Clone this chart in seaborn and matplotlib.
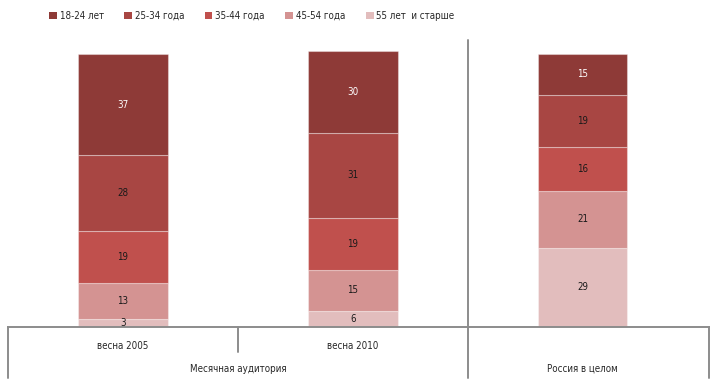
import matplotlib.pyplot as plt
import numpy as np
import pandas as pd
import seaborn as sns
from matplotlib.patches import Patch


# Donnees
columns = ["весна 2005", "весна 2010", "Россия в целом"]
age_groups = ["18-24 лет", "25-34 года", "35-44 года", "45-54 года", "55 лет  и старше"]
values = {
    "18-24 лет": [37, 30, 15],
    "25-34 года": [28, 31, 19],
    "35-44 года": [19, 19, 16],
    "45-54 года": [13, 15, 21],
    "55 лет  и старше": [3, 6, 29],
}
colors = ["#8E3A37", "#A84643", "#C0504D", "#D49392", "#E2BDBD"]
label_colors = ["white", "#1a1a1a", "#1a1a1a", "#1a1a1a", "#1a1a1a"]
group_labels = ["Месячная аудитория", "Россия в целом"]

sns.set_style("white")
plt.rcParams["font.family"] = ["DejaVu Sans"]
plt.rcParams["font.stretch"] = "condensed"

fig = plt.figure(figsize=(7.14, 3.9), dpi=100)
# axes en pixels : gauche 8, droite 709, bas 327, haut 40
W, H = 714, 390
ax = fig.add_axes([8 / W, (H - 327) / H, (709 - 8) / W, (327 - 40) / H])

# Barres empilees, du bas (55+) vers le haut (18-24)
bottoms = np.zeros(len(columns))
for i in range(len(age_groups) - 1, -1, -1):
    grp = age_groups[i]
    df = pd.DataFrame({"col": columns, "val": values[grp]})
    sns.barplot(
        data=df, x="col", y="val", order=columns, color=colors[i],
        width=0.39, bottom=bottoms, edgecolor=(1, 1, 1, 0.35), linewidth=0.8,
        saturation=1, ax=ax,
    )
    for j, v in enumerate(values[grp]):
        ax.text(j, bottoms[j] + v / 2, str(v), ha="center", va="center",
                fontsize=7, color=label_colors[i])
    bottoms = bottoms + np.array(values[grp])

ax.set_xlim(-0.5, 2.55)
ax.set_ylim(0, 100 * 287 / 273)
ax.set_xlabel("")
ax.set_ylabel("")
ax.set_xticks([])
ax.set_yticks([])
sns.despine(ax=ax, left=True, top=True, right=True, bottom=False)
ax.spines["bottom"].set_color("#8c8c8c")
ax.spines["bottom"].set_linewidth(1.4)

# Tableau sous l'axe
line_kw = dict(color="#8c8c8c", linewidth=1.4, clip_on=False,
               transform=ax.get_xaxis_transform())
y_bot = -(378 - 327) / 287
y_mid = -(352 - 327) / 287
ax.plot([-0.5, -0.5], [0, y_bot], **line_kw)
ax.plot([0.5, 0.5], [0, y_mid], **line_kw)
ax.plot([1.5, 1.5], [1, y_bot], **line_kw)
ax.plot([2.55, 2.55], [0, y_bot], **line_kw)

text_tr = ax.get_xaxis_transform()
ax.text(0, -(346 - 327) / 287, columns[0], transform=text_tr, ha="center", va="center", fontsize=7)
ax.text(1, -(346 - 327) / 287, columns[1], transform=text_tr, ha="center", va="center", fontsize=7)
ax.text(0.5, -(369 - 327) / 287, group_labels[0], transform=text_tr, ha="center", va="center", fontsize=7)
ax.text(2, -(369 - 327) / 287, group_labels[1], transform=text_tr, ha="center", va="center", fontsize=7)

# Legende
handles = [Patch(facecolor=c, edgecolor="none") for c in colors]
fig.legend(handles, age_groups, loc="center left", bbox_to_anchor=(44 / W, (H - 16) / H),
           ncol=5, frameon=False, fontsize=7, handlelength=0.8, handleheight=0.8,
           handletextpad=0.3, columnspacing=2.1, borderpad=0)

fig.savefig("out.png", dpi=100)
